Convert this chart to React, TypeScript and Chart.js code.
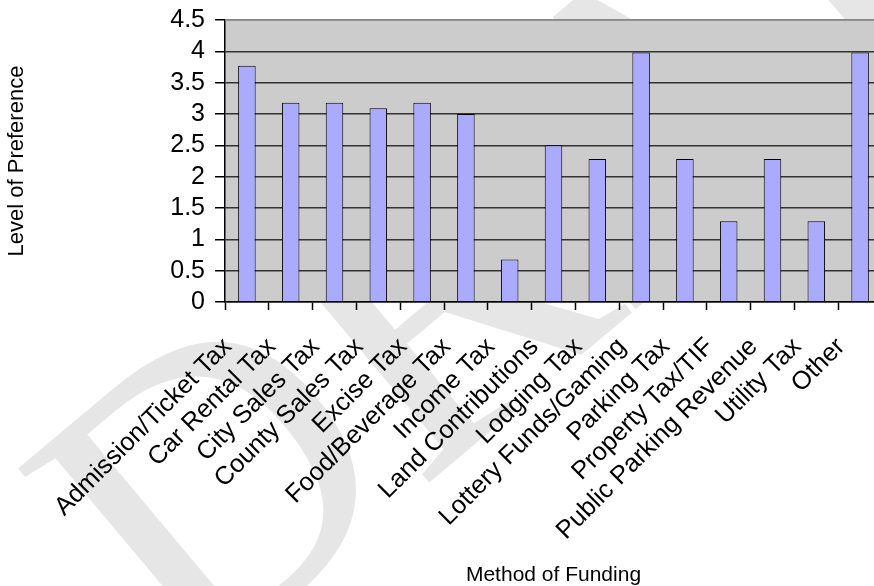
import React, { useEffect, useRef } from "react";
import { Chart, registerables } from "chart.js";

Chart.register(...registerables);

const categories = [
  "Admission/Ticket Tax",
  "Car Rental Tax",
  "City Sales Tax",
  "County Sales Tax",
  "Excise Tax",
  "Food/Beverage Tax",
  "Income Tax",
  "Land Contributions",
  "Lodging Tax",
  "Lottery Funds/Gaming",
  "Parking Tax",
  "Property Tax/TIF",
  "Public Parking Revenue",
  "Utility Tax",
  "Other",
];
const preference = [3.77, 3.18, 3.18, 3.09, 3.18, 3.0, 0.68, 2.5, 2.28, 3.98, 2.28, 1.29, 2.28, 1.29, 3.98];
const yTicks = [0, 0.5, 1, 1.5, 2, 2.5, 3, 3.5, 4, 4.5];
const yTitle = "Level of Preference";
const xTitle = "Method of Funding";
const watermark = "DRAFT";

const bgPlugin = {
  id: "bgPlugin",
  beforeDraw(chart: any) {
    const { ctx, chartArea } = chart;
    ctx.save();
    ctx.translate(642, 160);
    ctx.rotate((-40 * Math.PI) / 180);
    ctx.font = "420px 'Liberation Serif'";
    ctx.fillStyle = "#e6e6e6";
    ctx.textAlign = "center";
    ctx.textBaseline = "middle";
    ctx.fillText(watermark, 0, 0);
    ctx.restore();
    ctx.save();
    ctx.fillStyle = "#cccccc";
    ctx.fillRect(chartArea.left, chartArea.top, chartArea.right - chartArea.left, chartArea.bottom - chartArea.top);
    ctx.restore();
  },
  afterDraw(chart: any) {
    const { ctx, chartArea } = chart;
    ctx.save();
    ctx.strokeStyle = "#888888";
    ctx.lineWidth = 1.5;
    ctx.beginPath();
    ctx.moveTo(chartArea.left, chartArea.top);
    ctx.lineTo(chartArea.right, chartArea.top);
    ctx.stroke();
    ctx.restore();
  },
};

export default function App() {
  const ref = useRef<HTMLCanvasElement | null>(null);
  useEffect(() => {
    if (!ref.current) return;
    const chart = new Chart(ref.current, {
      type: "bar",
      data: {
        labels: categories,
        datasets: [
          {
            data: preference,
            backgroundColor: "#aaaaff",
            borderColor: "#000000",
            borderWidth: 1,
            categoryPercentage: 1,
            barPercentage: 0.4,
          },
        ],
      },
      options: {
        responsive: false,
        animation: false,
        devicePixelRatio: 1,
        layout: { padding: { top: 20, right: 18, left: 0, bottom: 0 } },
        plugins: { legend: { display: false }, tooltip: { enabled: false } },
        scales: {
          x: {
            afterFit: (s: any) => {
              s.height = 284;
              s.paddingLeft = 0;
              s.paddingRight = 0;
            },
            grid: { display: true, drawOnChartArea: false, drawTicks: true, tickLength: 8, tickColor: "#000", tickWidth: 1.5, offset: true },
            border: { display: true, color: "#000", width: 1.5 },
            ticks: {
              autoSkip: false,
              minRotation: 45,
              maxRotation: 45,
              color: "#000",
              padding: 22,
              labelOffset: -19,
              font: { family: "'Liberation Sans', Arial", size: 25.5 },
            },
            title: {
              display: true,
              text: xTitle,
              color: "#000",
              font: { family: "'Liberation Sans', Arial", size: 21, lineHeight: 1 },
              padding: { top: 0, bottom: 0 },
            },
          },
          y: {
            min: 0,
            max: 4.5,
            afterFit: (s: any) => {
              s.width = 225;
              s.paddingTop = 0;
              s.paddingBottom = 0;
            },
            afterBuildTicks: (s: any) => {
              s.ticks = yTicks.map((v) => ({ value: v }));
            },
            grid: {
              color: (c: any) => (c.tick && c.tick.value === 4.5 ? "#888888" : "#333333"),
              lineWidth: 1.5,
              tickLength: 10,
              tickColor: "#000",
            },
            border: { display: true, color: "#000", width: 1.5 },
            ticks: {
              autoSkip: false,
              color: "#000",
              padding: 10,
              font: { family: "'Liberation Sans', Arial", size: 25 },
              callback: (v: any) => String(v),
            },
            title: {
              display: true,
              text: yTitle,
              color: "#000",
              font: { family: "'Liberation Sans', Arial", size: 22, lineHeight: 1.2 },
              padding: { top: 4, bottom: 0 },
            },
          },
        },
      },
      plugins: [bgPlugin],
    });
    return () => chart.destroy();
  }, []);
  return (
    <div style={{ position: "fixed", left: 0, top: 0, width: 874, height: 586, overflow: "hidden", background: "#fff" }}>
      <canvas ref={ref} width={900} height={586} style={{ display: "block", width: 900, height: 586 }} />
    </div>
  );
}
